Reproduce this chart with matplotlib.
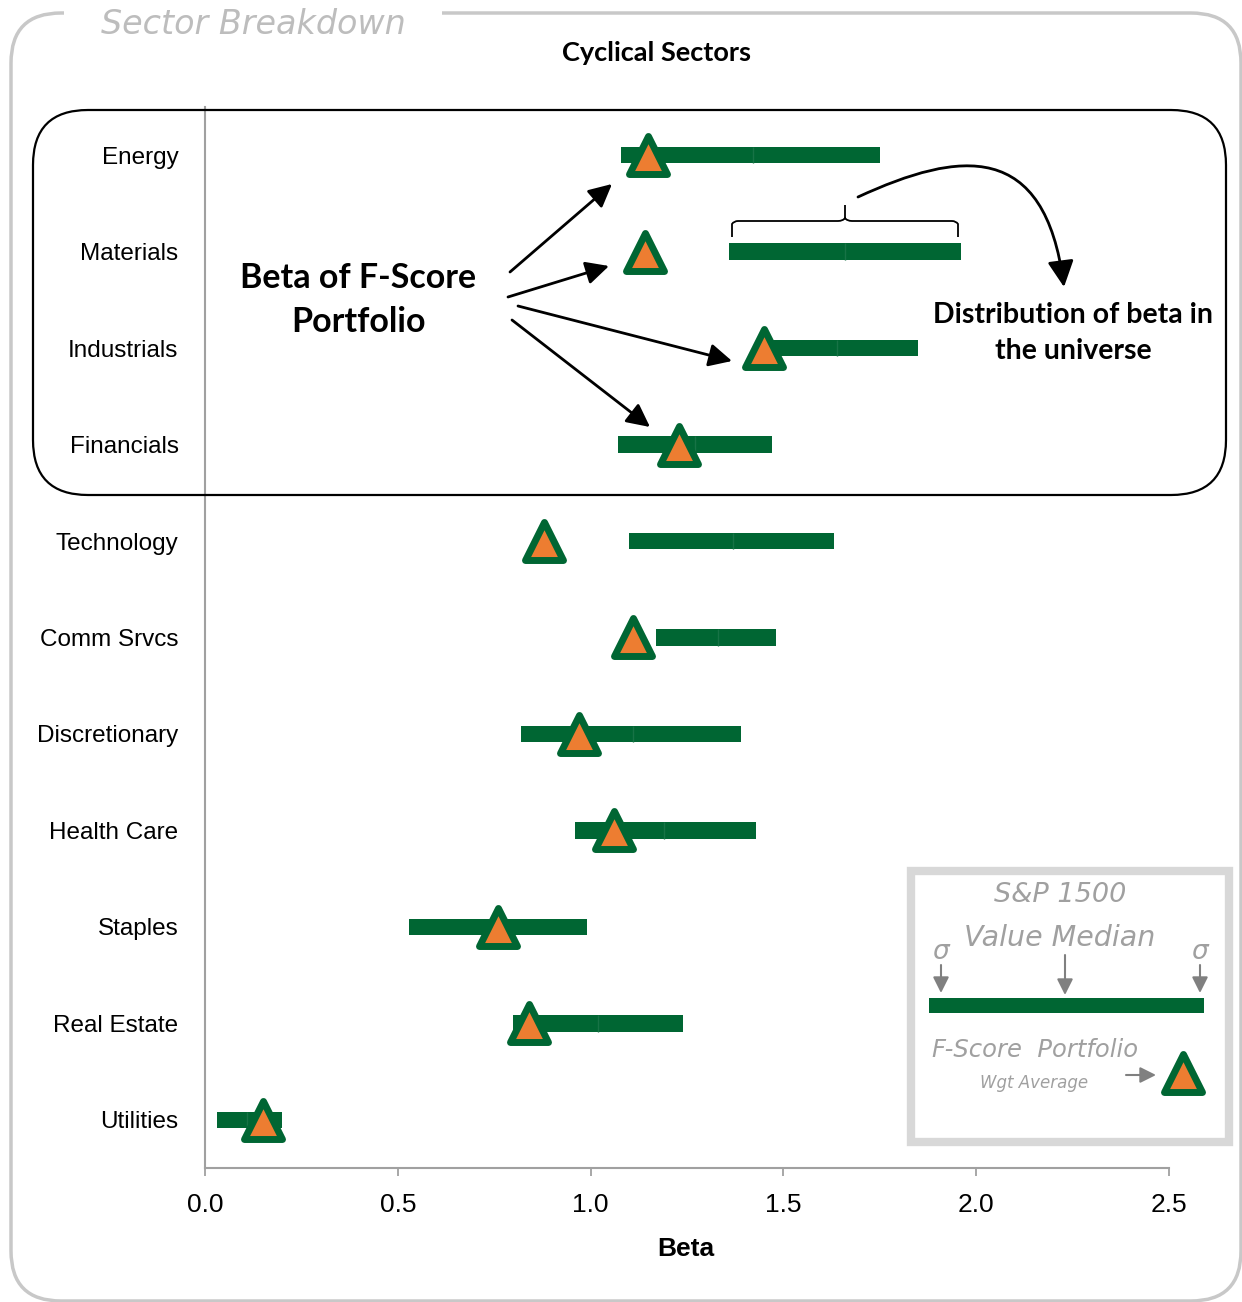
import matplotlib.pyplot as plt
from matplotlib.lines import Line2D
from matplotlib.markers import MarkerStyle
from matplotlib.patches import FancyArrowPatch, FancyBboxPatch, Rectangle, PathPatch
from matplotlib.path import Path
from matplotlib.transforms import Affine2D

# beta distribution per sector (low sigma, median, high sigma) and F-Score portfolio beta
sectors = ['Energy', 'Materials', 'Industrials', 'Financials', 'Technology', 'Comm Srvcs',
           'Discretionary', 'Health Care', 'Staples', 'Real Estate', 'Utilities']
beta_low = [1.08, 1.36, 1.44, 1.07, 1.10, 1.17, 0.82, 0.96, 0.53, 0.80, 0.03]
beta_median = [1.42, 1.66, 1.64, 1.27, 1.37, 1.33, 1.11, 1.19, 0.76, 1.02, 0.11]
beta_high = [1.75, 1.96, 1.85, 1.47, 1.63, 1.48, 1.39, 1.43, 0.99, 1.24, 0.20]
fscore_beta = [1.15, 1.14, 1.45, 1.23, 0.88, 1.11, 0.97, 1.06, 0.76, 0.84, 0.15]
xticks = [0.0, 0.5, 1.0, 1.5, 2.0, 2.5]

GREEN = '#006633'
ORANGE = '#ED7D31'
GRAY = '#a0a0a0'
W, H = 1242, 1302

fig = plt.figure(figsize=(W / 100, H / 100), dpi=100)
# pixel coordinates measured from the top-left corner
px = Affine2D().scale(1 / W, -1 / H).translate(0, 1) + fig.transFigure

ax = fig.add_axes([205 / W, 1 - 1168 / H, 964 / W, 1061 / H])
y = list(range(len(sectors)))
bar_h = 0.17
lo_w = [m - l for l, m in zip(beta_low, beta_median)]
hi_w = [h - m for m, h in zip(beta_median, beta_high)]
ax.barh(y, lo_w, left=beta_low, height=bar_h, color=GREEN, lw=0, zorder=2)
ax.barh(y, hi_w, left=beta_median, height=bar_h, color=GREEN, lw=0, zorder=2)
ax.vlines(beta_median, [v - bar_h / 2 for v in y], [v + bar_h / 2 for v in y],
          color='#177346', lw=1, zorder=3)
tri = MarkerStyle('^', joinstyle='round')
ax.plot(fscore_beta, y, ls='none', marker=tri, ms=28, mfc=ORANGE, mec=GREEN, mew=5, zorder=4)

ax.set_xlim(0, 2.5)
ax.set_ylim(len(sectors) - 0.5, -0.5)
ax.set_yticks(y, sectors, family=['Liberation Sans', 'DejaVu Sans'], fontsize=17.5)
ax.set_xticks(xticks, [f'{t:.1f}' for t in xticks],
              family=['Liberation Sans', 'DejaVu Sans'], fontsize=19)
ax.tick_params(axis='y', length=0, pad=19)
ax.tick_params(axis='x', length=6, width=1.3, color=GRAY, pad=12)
for side in ('top', 'right'):
    ax.spines[side].set_visible(False)
for side in ('left', 'bottom'):
    ax.spines[side].set_color(GRAY)
    ax.spines[side].set_linewidth(1.5)
ax.set_xlabel('Beta', family=['Liberation Sans', 'DejaVu Sans'],
              fontweight='bold', fontsize=19)
ax.xaxis.set_label_coords(0.499, -0.0763)
ax.xaxis.label.set_va('center')

# outer frame and panel title
fig.add_artist(FancyBboxPatch((11, 13), 1230, 1288, boxstyle='round,pad=0,rounding_size=50',
                              ec='#c8c8c8', fc='none', lw=2.5, transform=px, zorder=1))
fig.text(253, 24, 'Sector Breakdown', transform=px, ha='center', va='center',
         fontsize=24, style='italic', color='#bdbdbd', zorder=3,
         bbox=dict(fc='white', ec='none', boxstyle='square,pad=1.1'))
fig.text(656, 53, 'Cyclical Sectors', transform=px, ha='center', va='center',
         family=['Lato', 'DejaVu Sans'], fontweight='bold', fontsize=19.5)

# cyclical group box
fig.add_artist(FancyBboxPatch((33, 110), 1193, 385, boxstyle='round,pad=0,rounding_size=55',
                              ec='black', fc='none', lw=1.6, transform=px, zorder=2))

fig.text(358, 300, 'Beta of F-Score\nPortfolio', transform=px, ha='center', va='center',
         family=['Lato', 'DejaVu Sans'], fontweight='bold', fontsize=24.5, linespacing=1.45)
fig.text(1073, 333, 'Distribution of beta in\nthe universe', transform=px, ha='center',
         va='center', family=['Lato', 'DejaVu Sans'], fontweight='bold', fontsize=20.5,
         linespacing=1.45)

for start, end in [((510, 272), (612, 184)), ((508, 297), (609, 266)),
                   ((518, 306), (732, 361)), ((512, 320), (650, 427))]:
    fig.add_artist(FancyArrowPatch(start, end, arrowstyle='-|>,head_length=0.7,head_width=0.35',
                                   mutation_scale=20, lw=2, color='black', shrinkA=0, shrinkB=0,
                                   transform=px))

# brace over the distribution bar
brace = Path([(732, 237), (732, 224), (734, 221), (738, 221),
              (838, 221), (843, 221), (845, 218), (845, 205),
              (845, 218), (847, 221), (852, 221),
              (952, 221), (956, 221), (958, 224), (958, 237)],
             [Path.MOVETO, Path.LINETO, Path.CURVE3, Path.CURVE3,
              Path.LINETO, Path.CURVE3, Path.CURVE3, Path.LINETO,
              Path.MOVETO, Path.CURVE3, Path.CURVE3,
              Path.LINETO, Path.CURVE3, Path.CURVE3, Path.LINETO])
fig.add_artist(PathPatch(brace, fc='none', ec='black', lw=1.3, transform=px))

curve = Path([(858, 197), (960, 150), (1045, 140), (1064, 287)],
             [Path.MOVETO, Path.CURVE4, Path.CURVE4, Path.CURVE4])
fig.add_artist(FancyArrowPatch(path=curve, arrowstyle='-|>,head_length=0.8,head_width=0.4',
                               mutation_scale=20, lw=2, color='black', transform=px))

# key box
fig.add_artist(Rectangle((911, 871), 318, 271, fc='white', ec='#d8d8d8', lw=6, transform=px))
key_font = dict(transform=px, style='italic', color=GRAY, va='center')
fig.text(1060, 895, 'S&P 1500', ha='center', fontsize=19.5, **key_font)
fig.text(1060, 938, 'Value Median', ha='center', fontsize=20.5, **key_font)
fig.text(941, 952, 'σ', ha='center', fontsize=19, **key_font)
fig.text(1200, 952, 'σ', ha='center', fontsize=19, **key_font)
fig.text(932, 1050, 'F-Score  Portfolio', ha='left', fontsize=17.5, **key_font)
fig.text(1034, 1083, 'Wgt Average', ha='center', fontsize=12, **key_font)
for start, end in [((941, 965), (941, 993)), ((1065, 955), (1065, 995)),
                   ((1200, 965), (1200, 993)), ((1126, 1075), (1156, 1075))]:
    fig.add_artist(FancyArrowPatch(start, end, arrowstyle='-|>,head_length=0.6,head_width=0.3',
                                   mutation_scale=16, lw=1.5, color='#808080', shrinkA=0,
                                   shrinkB=0, transform=px))
fig.add_artist(Rectangle((929, 998), 275, 15, fc=GREEN, ec='none', transform=px))
fig.add_artist(Line2D([1183], [1073], ls='none', marker=tri, ms=28, mfc=ORANGE, mec=GREEN,
                      mew=5, transform=px))

fig.savefig('out.png', dpi=100)
